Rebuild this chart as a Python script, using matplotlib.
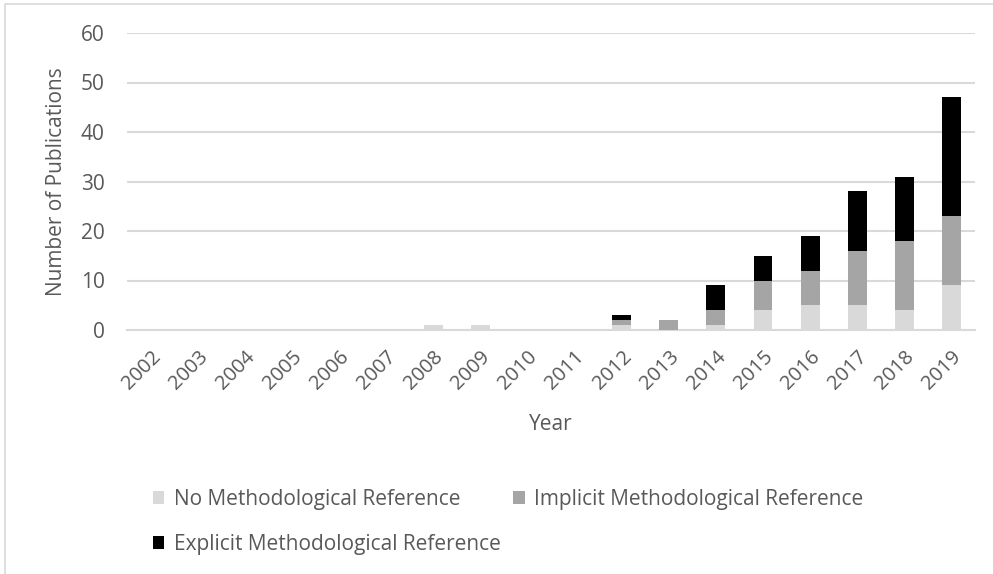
import matplotlib
matplotlib.use("Agg")
import matplotlib.pyplot as plt
from matplotlib.patches import Rectangle
import numpy as np

years = ["2002", "2003", "2004", "2005", "2006", "2007", "2008", "2009", "2010",
         "2011", "2012", "2013", "2014", "2015", "2016", "2017", "2018", "2019"]
no_ref =       [0, 0, 0, 0, 0, 0, 1, 1, 0, 0, 1, 0, 1, 4, 5, 5, 4, 9]
implicit_ref = [0, 0, 0, 0, 0, 0, 0, 0, 0, 0, 1, 2, 3, 6, 7, 11, 14, 14]
explicit_ref = [0, 0, 0, 0, 0, 0, 0, 0, 0, 0, 1, 0, 5, 5, 7, 12, 13, 24]

series_names = ["No Methodological Reference",
                "Implicit Methodological Reference",
                "Explicit Methodological Reference"]
colors = ["#D9D9D9", "#A5A5A5", "#000000"]
text_color = "#595959"

plt.rcParams["font.family"] = ["Open Sans", "DejaVu Sans"]

W, H = 993, 574
fig = plt.figure(figsize=(W / 100, H / 100), dpi=100)

# chart-area frame
fig.patches.append(Rectangle((5 / W, -0.1), 1.2, 1 - 4 / H + 0.1,
                             transform=fig.transFigure, fill=False,
                             edgecolor="#D9D9D9", linewidth=1.2))

left, right, top, bottom = 127, 975, 33, 330
ax = fig.add_axes([left / W, 1 - bottom / H, (right - left) / W, (bottom - top) / H])

x = np.arange(len(years))
width = 0.4
b1 = ax.bar(x, no_ref, width, color=colors[0], label=series_names[0], zorder=3)
b2 = ax.bar(x, implicit_ref, width, bottom=no_ref, color=colors[1],
            label=series_names[1], zorder=3)
base2 = np.array(no_ref) + np.array(implicit_ref)
b3 = ax.bar(x, explicit_ref, width, bottom=base2, color=colors[2],
            label=series_names[2], zorder=3)

ax.set_xlim(-0.5, len(years) - 0.5)
ax.set_ylim(0, 60)
ax.set_yticks(range(0, 61, 10))
ax.grid(axis="y", color="#D9D9D9", linewidth=1.5, zorder=0)
for s in ["top", "right", "left"]:
    ax.spines[s].set_visible(False)
ax.spines["bottom"].set_color("#D9D9D9")
ax.spines["bottom"].set_linewidth(1.5)

ax.set_xticks(x)
ax.set_xticklabels(years, rotation=45, ha="right", rotation_mode="anchor",
                   fontsize=14.5, color=text_color)
ax.tick_params(axis="x", length=0, pad=12)
ax.tick_params(axis="y", length=0, pad=16, labelsize=15, labelcolor=text_color)

ax.set_xlabel("Year", fontsize=15, color=text_color)
ax.xaxis.set_label_coords(0.5, (330 - 414) / (bottom - top))
ax.set_ylabel("Number of Publications", fontsize=15, color=text_color)
ax.yaxis.set_label_coords((67 - left) / (right - left), 0.5)

handles = [b1, b2, b3]
leg = fig.legend(handles[:2], series_names[:2], loc="upper left",
                 bbox_to_anchor=(134 / W, 1 - 470 / H), ncol=2, frameon=False,
                 fontsize=15, handlelength=0.55, handleheight=0.55,
                 handletextpad=0.45, columnspacing=2.55, labelcolor=text_color)
leg2 = fig.legend(handles[2:], series_names[2:], loc="upper left",
                  bbox_to_anchor=(134 / W, 1 - 515 / H), frameon=False,
                  fontsize=15, handlelength=0.55, handleheight=0.55,
                  handletextpad=0.45, labelcolor=text_color)

fig.savefig("out.png", dpi=100)
